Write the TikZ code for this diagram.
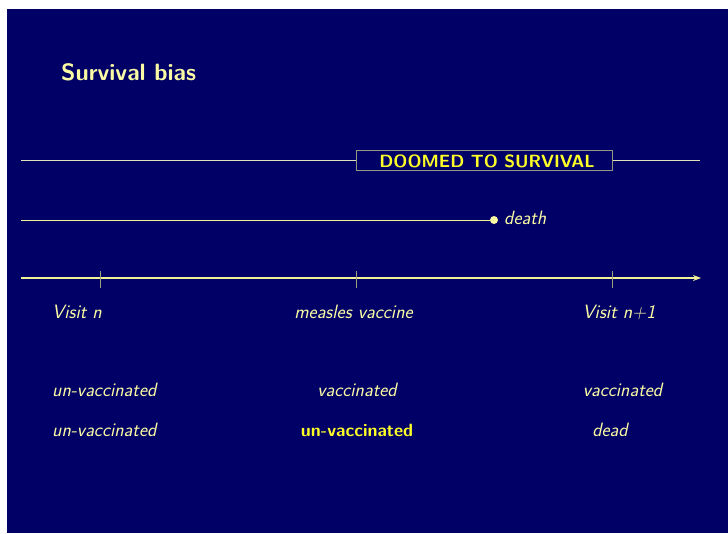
\documentclass[tikz,border=0pt]{standalone}
\usetikzlibrary{arrows.meta}
\definecolor{navy}{RGB}{0,0,102}
\definecolor{paleyel}{RGB}{250,250,165}
\definecolor{brightyel}{RGB}{255,255,40}
\definecolor{linewhite}{RGB}{225,225,185}
\definecolor{lineyel}{RGB}{240,240,150}
\definecolor{tickgray}{RGB}{160,160,120}
\definecolor{boxgray}{RGB}{150,150,130}
\begin{document}
\begin{tikzpicture}[x=1pt,y=-1pt,
  txt/.style={text=paleyel,font=\fontsize{19.3}{22}\selectfont\sffamily\itshape,inner sep=0pt},
  boldtxt/.style={text=brightyel,font=\fontsize{17.8}{21}\selectfont\sffamily\bfseries,inner sep=0pt},
  tickline/.style={draw=tickgray,line width=1pt},
]
\useasboundingbox (0,0) rectangle (728,533);
\fill[white] (0,0) rectangle (728,533);
\fill[navy] (7,9) rectangle (728,533);
% title
\node[anchor=base west,text=paleyel,font=\fontsize{23.6}{27}\selectfont\sffamily\bfseries,inner sep=0pt] (title) at (61,80) {Survival bias};
% line 1 with box
\coordinate (l1a) at (21,160.5);
\coordinate (l1b) at (700,160.5);
\node[draw=boxgray,line width=1pt,minimum width=256pt,minimum height=20pt,inner sep=0pt] (doomed) at (484,160.5) {};
\node[anchor=base,text=brightyel,font=\fontsize{17.7}{21}\selectfont\sffamily\bfseries,inner sep=0pt] (doomedtxt) at (487,167) {DOOMED TO SURVIVAL};
\draw[linewhite,line width=1pt] (l1a) -- (doomed.west);
\draw[linewhite,line width=1pt] (doomed.east) -- (l1b);
% line 2 with death
\coordinate (l2a) at (21,220);
\node[circle,fill=paleyel,minimum size=8pt,inner sep=0pt] (dot) at (494,220) {};
\draw[lineyel,line width=1pt] (l2a) -- (dot.center);
\node[txt,anchor=base west] (death) at (504,224) {death};
% axis
\coordinate (axa) at (21,278);
\coordinate (axb) at (701,278);
\draw[lineyel,line width=1.3pt,-{Stealth[length=8pt,width=6pt]}] (axa) -- (axb);
\coordinate (t1a) at (100,271); \coordinate (t1b) at (100,288);
\coordinate (t2a) at (356,271); \coordinate (t2b) at (356,288);
\coordinate (t3a) at (612,271); \coordinate (t3b) at (612,288);
\draw[tickline] (t1a) -- (t1b);
\draw[tickline] (t2a) -- (t2b);
\draw[tickline] (t3a) -- (t3b);
% labels
\node[txt,anchor=base west] (visitn) at (52,318) {Visit n};
\node[txt,anchor=base] (measles) at (353.5,318) {measles vaccine};
\node[txt,anchor=base] (visitn1) at (619,318) {Visit n+1};
\node[txt,anchor=base west] (r1a) at (52,396) {un-vaccinated};
\node[txt,anchor=base] (r1b) at (357,396) {vaccinated};
\node[txt,anchor=base] (r1c) at (622.5,396) {vaccinated};
\node[txt,anchor=base west] (r2a) at (52,436) {un-vaccinated};
\node[boldtxt,anchor=base] (r2b) at (357,436) {un-vaccinated};
\node[txt,anchor=base] (r2c) at (610,436) {dead};
\end{tikzpicture}
\end{document}
